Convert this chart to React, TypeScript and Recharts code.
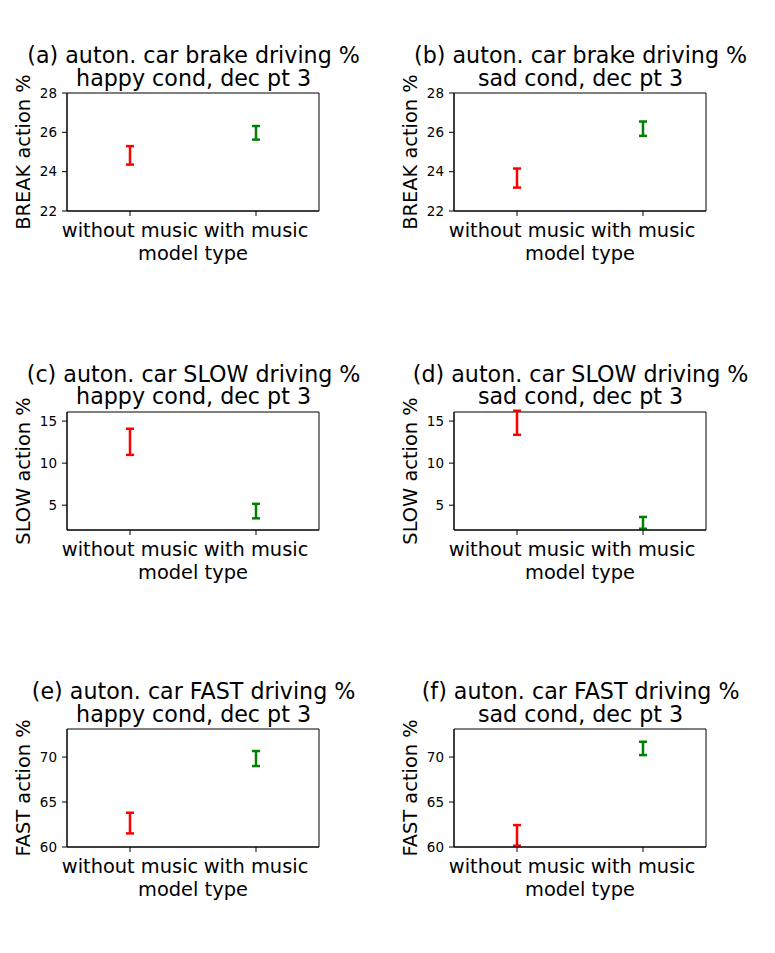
import { ComposedChart, ErrorBar, ReferenceArea, Scatter, XAxis, YAxis } from "recharts";

const FONT = "DejaVu Sans, Verdana, sans-serif";
const RED = "#ff0000";
const GREEN = "#008000";

// categories sit at 0 and 1 on a [-0.5, 1.5] axis
const models = ["without music", "with music"];
const modelPos = [0, 1];

const brakeTicks = [22, 24, 26, 28];
const slowTicks = [5, 10, 15];
const fastTicks = [60, 65, 70];

const brakeDomain: [number, number] = [22, 28];
const slowDomain: [number, number] = [2.05, 16.08];
const fastDomain: [number, number] = [60, 73.12];

// means and half-widths of the error bars, [without, with]
const brakeHappyMean = [24.83, 25.975];
const brakeHappyErr = [0.47, 0.345];
const brakeSadMean = [23.675, 26.185];
const brakeSadErr = [0.485, 0.365];
const slowHappyMean = [12.535, 4.3];
const slowHappyErr = [1.555, 0.86];
const slowSadMean = [14.8, 2.9];
const slowSadErr = [1.43, 0.7];
const fastHappyMean = [62.66, 69.835];
const fastHappyErr = [1.15, 0.835];
const fastSadMean = [61.29, 70.96];
const fastSadErr = [1.15, 0.74];

const PLOT_W = 252;
const PLOT_H = 118;
const AXIS_W = 67;
const TOP = 40;

// left / top of each plot box in page pixels
const panels = [
  { left: 67.3, top: 93.3, t1: "(a) auton. car brake driving %", t2: "happy cond, dec pt 3", y: "BREAK action %", mean: brakeHappyMean, err: brakeHappyErr, domain: brakeDomain, ticks: brakeTicks },
  { left: 454.3, top: 93.3, t1: "(b) auton. car brake driving %", t2: "sad cond, dec pt 3", y: "BREAK action %", mean: brakeSadMean, err: brakeSadErr, domain: brakeDomain, ticks: brakeTicks },
  { left: 67.3, top: 411.5, t1: "(c) auton. car SLOW driving %", t2: "happy cond, dec pt 3", y: "SLOW action %", mean: slowHappyMean, err: slowHappyErr, domain: slowDomain, ticks: slowTicks },
  { left: 454.3, top: 411.5, t1: "(d) auton. car SLOW driving %", t2: "sad cond, dec pt 3", y: "SLOW action %", mean: slowSadMean, err: slowSadErr, domain: slowDomain, ticks: slowTicks },
  { left: 67.3, top: 729.3, t1: "(e) auton. car FAST driving %", t2: "happy cond, dec pt 3", y: "FAST action %", mean: fastHappyMean, err: fastHappyErr, domain: fastDomain, ticks: fastTicks },
  { left: 454.3, top: 729.3, t1: "(f) auton. car FAST driving %", t2: "sad cond, dec pt 3", y: "FAST action %", mean: fastSadMean, err: fastSadErr, domain: fastDomain, ticks: fastTicks },
];

function YLabel({ text }: { text: string }) {
  const x = AXIS_W - 44;
  const y = TOP + PLOT_H / 2;
  return (
    <text
      x={x}
      y={y}
      dy={7}
      transform={`rotate(-90 ${x} ${y})`}
      textAnchor="middle"
      fontSize={19.4}
      fontFamily={FONT}
      fill="#000"
    >
      {text}
    </text>
  );
}

function XLabel() {
  return (
    <text
      x={AXIS_W + PLOT_W / 2}
      y={TOP + PLOT_H + 48.7}
      textAnchor="middle"
      fontSize={19.4}
      fontFamily={FONT}
      fill="#000"
    >
      model type
    </text>
  );
}

type PanelProps = (typeof panels)[number];

function Panel({ left, top, y, mean, err, domain, ticks }: PanelProps) {
  const without = [{ x: modelPos[0], y: mean[0], err: err[0] }];
  const withMusic = [{ x: modelPos[1], y: mean[1], err: err[1] }];
  return (
    <div style={{ position: "absolute", left: left - AXIS_W, top: top - TOP }}>
      <ComposedChart
        width={AXIS_W + PLOT_W + 10}
        height={TOP + PLOT_H + 60}
        margin={{ top: TOP, right: 10, bottom: 0, left: 0 }}
      >
        <XAxis
          type="number"
          dataKey="x"
          domain={[-0.5, 1.5]}
          ticks={modelPos}
          interval={0}
          tickFormatter={(v: number) => models[v]}
          tick={{ fill: "#000", fontSize: 19.4, fontFamily: FONT }}
          tickLine={{ stroke: "#000" }}
          axisLine={{ stroke: "#000" }}
          tickSize={5}
          tickMargin={7}
          height={60}
          label={<XLabel />}
        />
        <YAxis
          type="number"
          dataKey="y"
          domain={domain}
          ticks={ticks}
          allowDataOverflow
          tick={{ fill: "#000", fontSize: 13.5, fontFamily: FONT }}
          tickLine={{ stroke: "#000" }}
          axisLine={{ stroke: "#000" }}
          tickSize={5}
          tickMargin={5}
          width={AXIS_W}
          label={<YLabel text={y} />}
        />
        <ReferenceArea
          x1={-0.5}
          x2={1.5}
          y1={domain[0]}
          y2={domain[1]}
          fill="none"
          stroke="#000"
          strokeWidth={1}
          ifOverflow="visible"
        />
        <Scatter data={without} shape={() => <g />} isAnimationActive={false}>
          <ErrorBar dataKey="err" direction="y" width={4} stroke={RED} strokeWidth={2.5} isAnimationActive={false} />
        </Scatter>
        <Scatter data={withMusic} shape={() => <g />} isAnimationActive={false}>
          <ErrorBar dataKey="err" direction="y" width={4} stroke={GREEN} strokeWidth={2.5} isAnimationActive={false} />
        </Scatter>
      </ComposedChart>
    </div>
  );
}

export default function App() {
  return (
    <div style={{ position: "absolute", left: 0, top: 0, width: 775, height: 953, background: "#fff" }}>
      <svg width={775} height={953} style={{ position: "absolute", left: 0, top: 0 }}>
        {panels.map((p) => {
          const cx = p.left + PLOT_W / 2 + 0.3;
          return (
            <g key={p.t1} fontFamily={FONT} fontSize={22.2} fill="#000" textAnchor="middle">
              <text x={cx} y={p.top - 30}>{p.t1}</text>
              <text x={cx} y={p.top - 7.3}>{p.t2}</text>
            </g>
          );
        })}
      </svg>
      {panels.map((p) => (
        <Panel key={p.t1} {...p} />
      ))}
    </div>
  );
}
